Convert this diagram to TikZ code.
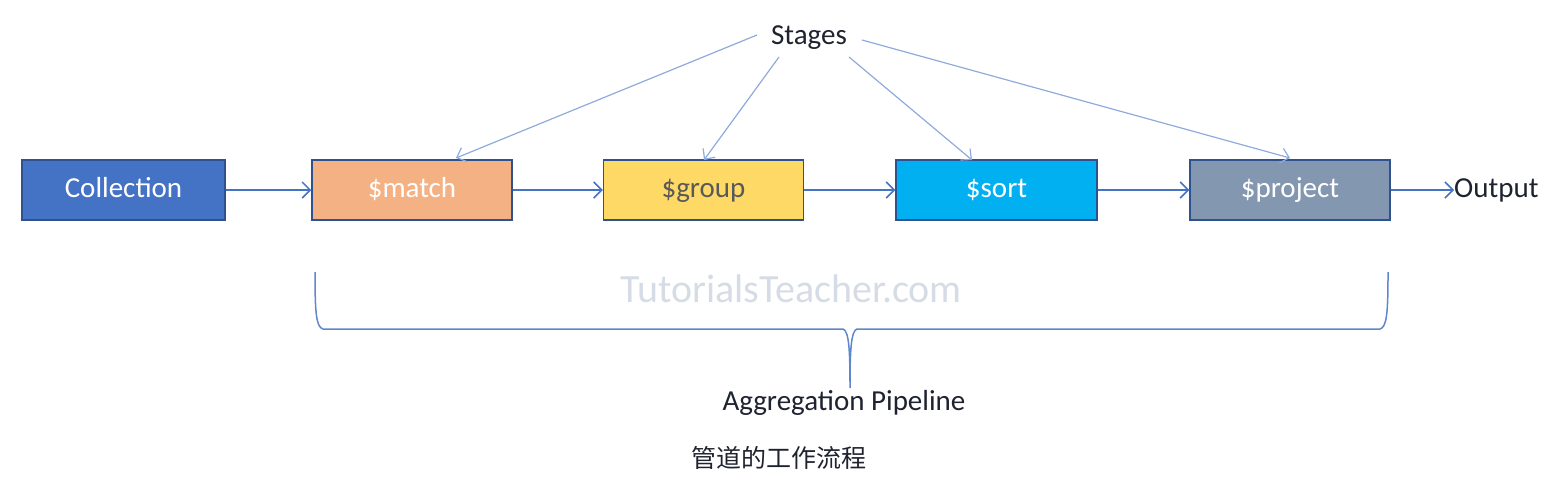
\documentclass[tikz,border=0pt]{standalone}
\usepackage{fontspec}
\setmainfont{Carlito}
\newfontfamily\cjk{Noto Sans CJK SC}
\usetikzlibrary{arrows.meta}
\definecolor{bordc}{HTML}{2F528F}
\definecolor{linec}{HTML}{4472C4}
\definecolor{stagec}{HTML}{8FAADC}
\definecolor{collc}{HTML}{4472C4}
\definecolor{matchc}{HTML}{F4B183}
\definecolor{groupc}{HTML}{FFD966}
\definecolor{sortc}{HTML}{00B0F0}
\definecolor{projc}{HTML}{8497B0}
\definecolor{wmc}{HTML}{D6DCE5}
\definecolor{txtc}{HTML}{1F2330}
\tikzset{
  box/.style={draw=bordc, line width=1.5pt, minimum width=200pt, minimum height=60pt, inner sep=0pt, text height=19pt, text depth=4pt, font=\fontsize{29}{33}\selectfont},
  flow/.style={draw=linec, line width=1.5pt, -{Straight Barb[length=8pt,width=16pt,line width=1.5pt]}},
  stagearr/.style={draw=stagec, line width=1.2pt, -{Straight Barb[length=8pt,width=15pt,line width=1.2pt]}},
  lbl/.style={inner sep=0pt, text=txtc, font=\fontsize{29}{33}\selectfont},
}
\begin{document}
\begin{tikzpicture}[x=1pt,y=-1pt]
\useasboundingbox (0,0) rectangle (1568,480);
\node[box, fill=collc, text=white, minimum width=203pt] (coll) at (123.5,190) {Collection};
\node[box, fill=matchc, text=white] (match) at (412,190) {\$match};
\node[box, fill=groupc, text=black!65] (group) at (703.5,190) {\$group};
\node[box, fill=sortc, text=white, minimum width=201pt] (sort) at (996.5,190) {\$sort};
\node[box, fill=projc, text=white] (proj) at (1290,190) {\$project};
\node[lbl, anchor=west] (out) at (1454,190) {Output};
\node[lbl] (stages) at (809,38) {Stages};
\node[inner sep=0pt, text=wmc, font=\fontsize{40}{46}\selectfont] (wm) at (791,289) {TutorialsTeacher.com};
\node[lbl] (agg) at (844,403) {Aggregation Pipeline};
\node[inner sep=0pt, text=txtc, font=\cjk\fontsize{25}{29}\selectfont] (cn) at (779,458) {管道的工作流程};
% flow arrows
\draw[flow] (coll.east) -- (match.west);
\draw[flow] (match.east) -- (group.west);
\draw[flow] (group.east) -- (sort.west);
\draw[flow] (sort.east) -- (proj.west);
\draw[flow] (proj.east) -- (out.west);
% stage arrows
\coordinate (s1) at (757,35);
\coordinate (s2) at (779,57);
\coordinate (s3) at (849,57);
\coordinate (s4) at (862,40);
\coordinate (e1) at (456,158);
\coordinate (e2) at (704,160);
\coordinate (e3) at (972,160);
\coordinate (e4) at (1290,158);
\draw[stagearr] (s1) -- (e1);
\draw[stagearr] (s2) -- (e2);
\draw[stagearr] (s3) -- (e3);
\draw[stagearr] (s4) -- (e4);
% brace
\draw[draw=linec!85, line width=1.5pt]
  (315,272) .. controls (315,312) and (316,327) .. (323,329) -- (843,329)
  .. controls (849,331) and (850,350) .. (850,388)
  .. controls (850,350) and (851,331) .. (857,329) -- (1380,329)
  .. controls (1387,327) and (1388,312) .. (1388,272);
\end{tikzpicture}
\end{document}
